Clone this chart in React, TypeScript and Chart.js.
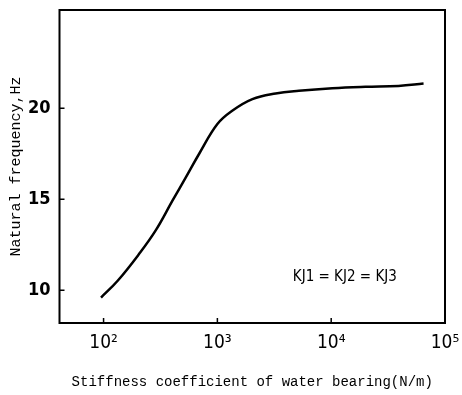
import React, { useEffect, useRef } from "react";
import { Chart, registerables } from "chart.js";

Chart.register(...registerables);

const stiffness = [95, 133, 205, 288, 403, 528, 692, 1000, 1350, 2030, 3250, 5200, 10240, 20000, 39000, 64800];
const frequency = [9.6, 10.52, 11.99, 13.3, 14.92, 16.2, 17.5, 19.13, 19.86, 20.5, 20.81, 20.96, 21.1, 21.18, 21.23, 21.36];
const xTicks = [100, 1000, 10000, 100000];
const xTickLabels = ["10²", "10³", "10⁴", "10⁵"];
const yTicks = [10, 15, 20];
const note = "KJ1 = KJ2 = KJ3";
const noteAt = { x: 4600, y: 10.7 };

const NARROW = "'Liberation Sans Narrow', 'DejaVu Sans Condensed', 'Liberation Sans', sans-serif";
const MONO = "'Liberation Mono', 'DejaVu Sans Mono', monospace";

const framePlugin = {
  id: "frame",
  afterDraw(chart: any) {
    const { ctx, chartArea, scales } = chart;
    const { left, right, top, bottom } = chartArea;
    ctx.save();
    ctx.strokeStyle = "#000";
    ctx.lineWidth = 2;
    ctx.strokeRect(left, top, right - left, bottom - top);
    ctx.lineWidth = 1.5;
    ctx.beginPath();
    for (const v of yTicks) {
      const py = scales.y.getPixelForValue(v);
      ctx.moveTo(left, py);
      ctx.lineTo(left + 5, py);
    }
    for (const v of xTicks.slice(0, 3)) {
      const px = scales.x.getPixelForValue(v);
      ctx.moveTo(px, bottom);
      ctx.lineTo(px, bottom - 5);
    }
    ctx.stroke();
    ctx.fillStyle = "#000";
    ctx.font = `15px ${NARROW}`;
    ctx.textAlign = "left";
    ctx.textBaseline = "middle";
    ctx.fillText(note, scales.x.getPixelForValue(noteAt.x), scales.y.getPixelForValue(noteAt.y));
    ctx.restore();
  },
};

export default function App() {
  const ref = useRef<HTMLCanvasElement>(null);
  useEffect(() => {
    const chart = new Chart(ref.current!, {
      type: "line",
      data: {
        datasets: [
          {
            data: stiffness.map((x, i) => ({ x, y: frequency[i] })),
            borderColor: "#000",
            borderWidth: 2.5,
            pointRadius: 0,
            tension: 0.4,
            fill: false,
          },
        ],
      },
      options: {
        animation: false,
        responsive: true,
        maintainAspectRatio: false,
        layout: { padding: { left: 0, top: 10, right: 17, bottom: 0 } },
        plugins: { legend: { display: false }, tooltip: { enabled: false } },
        scales: {
          x: {
            type: "logarithmic",
            min: 41,
            max: 100000,
            afterBuildTicks: (s: any) => {
              s.ticks = xTicks.map((v) => ({ value: v }));
            },
            afterFit: (s: any) => {
              s.height = 72;
              s.paddingLeft = 0;
              s.paddingRight = 0;
            },
            grid: { display: false, drawTicks: false },
            border: { display: false },
            ticks: {
              autoSkip: false,
              maxRotation: 0,
              padding: 9,
              color: "#000",
              font: { family: NARROW, size: 19 },
              callback: (v: any) => {
                const i = xTicks.indexOf(Number(v));
                return i >= 0 ? xTickLabels[i] : "";
              },
            },
            title: {
              display: true,
              text: "Stiffness coefficient of water bearing(N/m)",
              color: "#000",
              font: { family: MONO, size: 14 },
              padding: { top: 0, bottom: 4 },
            },
          },
          y: {
            type: "linear",
            min: 8.2,
            max: 25.4,
            afterBuildTicks: (s: any) => {
              s.ticks = yTicks.map((v) => ({ value: v }));
            },
            afterFit: (s: any) => {
              s.width = 59.5;
              s.paddingTop = 0;
              s.paddingBottom = 0;
            },
            grid: { display: false, drawTicks: false },
            border: { display: false },
            ticks: {
              padding: 9,
              color: "#000",
              font: { family: NARROW, size: 18, weight: "bold" },
            },
            title: {
              display: true,
              text: "Natural frequency,Hz",
              color: "#000",
              font: { family: MONO, size: 15 },
              padding: { top: 7, bottom: 0 },
            },
          },
        },
      },
      plugins: [framePlugin],
    } as any);
    return () => chart.destroy();
  }, []);
  return (
    <div style={{ position: "absolute", left: 0, top: 0, width: 462, height: 395, background: "#fff" }}>
      <canvas ref={ref} />
    </div>
  );
}
